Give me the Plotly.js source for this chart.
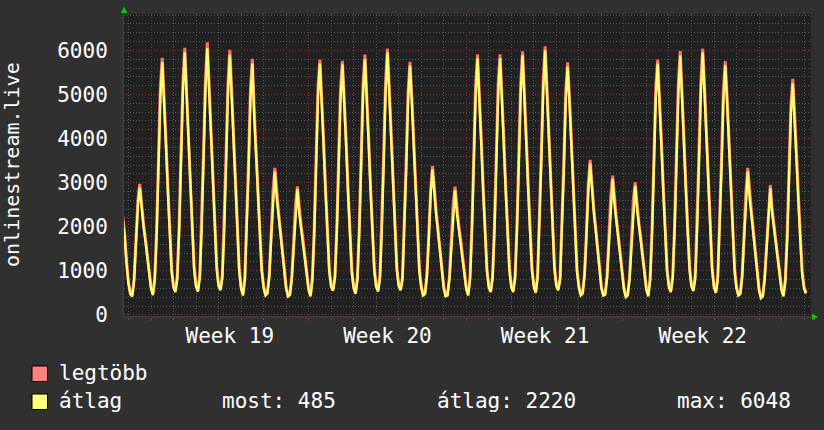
<!DOCTYPE html>
<html>
<head>
<meta charset="utf-8">
<script src="https://cdn.plot.ly/plotly-3.0.1.min.js"></script>
<style>
  html, body { margin: 0; padding: 0; background: #303030; }
  #chart { width: 824px; height: 430px; }
</style>
</head>
<body>
<div id="chart"></div>
<script>
// ---------- data (2-hour samples, starting Sat 2023-05-06 18:00) ----------
const seriesStart = '2023-05-06T18:00:00Z';
const stepHours = 2;

const seriesNames = ['legtöbb', 'átlag'];

const maxVals = [
  2230,1820,1200,                                          // Sat 6 May (partial)
  740,500,450,840,1650,2600,2970,2450,2080,1750,1380,920,   // Sun 7
  640,480,850,1950,3600,5200,5833,5020,3950,2900,1920,1040, // Mon 8
  660,550,890,2050,3700,5300,6060,5150,4050,2970,1980,1080, // Tue 9
  680,560,910,2100,3750,5350,6182,5200,4100,3020,2000,1110, // Wed 10
  690,590,900,2050,3650,5250,6015,5100,4050,2970,1970,1060, // Thu 11
  640,470,850,2000,3550,5150,5810,4650,3850,2820,1900,1060, // Fri 12
  660,470,510,910,1800,2800,3333,2750,2330,1920,1460,950,   // Sat 13
  640,450,480,860,1600,2500,2917,2400,2030,1720,1360,900,   // Sun 14
  600,450,870,2000,3600,5200,5788,5000,3950,2900,1920,1040, // Mon 15
  670,580,890,2000,3600,5150,5765,5000,3950,2870,1900,1020, // Tue 16
  640,510,870,2030,3650,5250,5902,5100,4000,2920,1950,1060, // Wed 17
  670,560,900,2070,3700,5300,6038,5150,4050,2970,1980,1080, // Thu 18
  690,590,860,2000,3550,5100,5742,4950,3900,2840,1900,1040, // Fri 19
  660,470,500,910,1800,2850,3379,2800,2330,1920,1460,950,   // Sat 20
  640,450,470,860,1600,2500,2909,2400,2030,1720,1360,900,   // Sun 21
  620,470,870,2030,3650,5250,5909,5100,4000,2920,1950,1060, // Mon 22
  660,550,880,2030,3650,5250,5909,5100,4000,2920,1950,1060, // Tue 23
  660,550,890,2050,3670,5270,5977,5130,4030,2950,1970,1070, // Wed 24
  680,530,910,2100,3730,5330,6091,5170,4070,2990,1990,1090, // Thu 25
  690,590,860,2000,3550,5100,5727,4950,3900,2840,1900,1040, // Fri 26
  660,470,510,940,1850,2950,3515,2900,2380,1970,1480,950,   // Sat 27
  640,470,490,890,1700,2700,3159,2600,2180,1820,1410,920,   // Sun 28
  620,430,470,860,1650,2600,3008,2500,2080,1750,1380,930,   // Mon 29 (holiday)
  600,450,870,2000,3600,5200,5788,5000,3950,2900,1920,1040, // Tue 30
  660,550,890,2050,3670,5270,5985,5130,4030,2950,1970,1070, // Wed 31
  680,570,900,2070,3700,5300,6038,5150,4050,2970,1980,1080, // Thu Jun 1
  660,530,860,2000,3550,5100,5757,4950,3900,2840,1900,1040, // Fri 2
  640,470,500,910,1800,2800,3333,2750,2330,1920,1460,950,   // Sat 3
  600,400,450,860,1600,2500,2947,2400,2030,1720,1360,900,   // Sun 4
  600,450,820,1850,3350,4800,5356,4600,3650,2670,1780,980,  // Mon 5
  640,510                                                   // Tue 6
];

const avgVals = [
  2150,1750,1150,
  700,470,420,780,1550,2450,2890,2350,2000,1680,1320,880,
  600,450,780,1800,3350,4950,5735,4880,3800,2780,1820,980,
  620,520,820,1900,3450,5050,5962,5000,3900,2850,1880,1020,
  640,530,840,1950,3500,5100,6048,5050,3950,2900,1900,1050,
  650,560,830,1900,3400,5000,5900,4950,3900,2850,1870,1000,
  600,440,780,1850,3300,4900,5700,4500,3700,2700,1800,1000,
  620,440,480,850,1700,2650,3250,2650,2250,1850,1400,900,
  600,420,450,800,1500,2350,2850,2300,1950,1650,1300,850,
  560,420,800,1850,3350,4950,5700,4850,3800,2780,1820,980,
  630,550,820,1850,3350,4900,5680,4850,3800,2750,1800,960,
  600,480,800,1880,3400,5000,5800,4950,3850,2800,1850,1000,
  630,530,830,1920,3450,5050,5950,5000,3900,2850,1880,1020,
  650,560,790,1850,3300,4850,5650,4800,3750,2720,1800,980,
  620,440,470,850,1700,2700,3300,2700,2250,1850,1400,900,
  600,420,440,800,1500,2350,2830,2300,1950,1650,1300,850,
  580,440,800,1880,3400,5000,5820,4950,3850,2800,1850,1000,
  620,520,810,1880,3400,5000,5820,4950,3850,2800,1850,1000,
  620,520,820,1900,3420,5020,5890,4980,3880,2830,1870,1010,
  640,500,840,1950,3480,5080,6000,5020,3920,2870,1890,1030,
  650,560,790,1850,3300,4850,5630,4800,3750,2720,1800,980,
  620,440,480,880,1750,2800,3430,2800,2300,1900,1420,900,
  600,440,460,830,1600,2550,3080,2500,2100,1750,1350,870,
  580,400,440,800,1550,2450,2930,2400,2000,1680,1320,880,
  560,420,800,1850,3350,4950,5700,4850,3800,2780,1820,980,
  620,520,820,1900,3420,5020,5880,4980,3880,2830,1870,1010,
  640,540,830,1920,3450,5050,5950,5000,3900,2850,1880,1020,
  620,500,790,1850,3300,4850,5660,4800,3750,2720,1800,980,
  600,440,470,850,1700,2650,3250,2650,2250,1850,1400,900,
  560,380,420,800,1500,2350,2870,2300,1950,1650,1300,850,
  560,420,750,1700,3100,4550,5250,4450,3500,2550,1680,920,
  600,485
];

const weekLabels = ['Week 19', 'Week 20', 'Week 21', 'Week 22'];
const weekMids   = ['2023-05-11 12:00', '2023-05-18 12:00', '2023-05-25 12:00', '2023-06-01 12:00'];
const xRange     = ['2023-05-06 19:13', '2023-06-06 07:22'];

const statLabels = ['most', 'átlag', 'max'];
const statValues = [485, 2220, 6048];

// ---------- build ----------
function fmt(ms) {
  return new Date(ms).toISOString().slice(0, 19).replace('T', ' ');
}
const t0 = Date.parse(seriesStart);
const xs = avgVals.map((_, i) => fmt(t0 + i * stepHours * 3600000));

const FONT = 'DejaVu Sans Mono, monospace';
const W = 824, H = 430, L = 124, R = 811, T = 14, B = 316;
const px = v => (v - L) / (R - L);
const py = v => (B - v) / (B - T);

const redCol = '#ff7070';
const yelCol = '#ffff70';
const majorGrid = 'rgb(125,55,55)';
const minorGrid = 'rgb(85,85,85)';

const traces = [
  { x: xs, y: maxVals, name: seriesNames[0], type: 'scatter', mode: 'lines',
    line: { color: redCol, width: 3, shape: 'linear' }, xaxis: 'x', yaxis: 'y' },
  { x: xs, y: avgVals, name: seriesNames[1], type: 'scatter', mode: 'lines',
    line: { color: yelCol, width: 2.4, shape: 'linear' }, xaxis: 'x2', yaxis: 'y' }
];

const annotations = [
  { text: 'onlinestream.live', xref: 'paper', yref: 'paper', x: px(12), y: py(165),
    textangle: -90, showarrow: false, xanchor: 'center', yanchor: 'middle',
    font: { family: FONT, size: 20, color: '#ffffff' } },
  { text: seriesNames[0], xref: 'paper', yref: 'paper', x: px(57), y: py(373),
    showarrow: false, xanchor: 'left', yanchor: 'middle',
    font: { family: FONT, size: 21, color: '#ffffff' } },
  { text: seriesNames[1], xref: 'paper', yref: 'paper', x: px(57), y: py(401),
    showarrow: false, xanchor: 'left', yanchor: 'middle',
    font: { family: FONT, size: 21, color: '#ffffff' } },
  { text: '▲', xref: 'paper', yref: 'paper', x: px(124.5), y: py(10),
    showarrow: false, xanchor: 'center', yanchor: 'middle',
    font: { family: 'DejaVu Sans', size: 8, color: '#00d000' } },
  { text: '▶', xref: 'paper', yref: 'paper', x: px(815), y: py(316),
    showarrow: false, xanchor: 'center', yanchor: 'middle',
    font: { family: 'DejaVu Sans', size: 8, color: '#00d000' } }
];
const statX = [220, 435, 675];
statLabels.forEach((lab, i) => {
  annotations.push({ text: lab + ': ' + statValues[i], xref: 'paper', yref: 'paper',
    x: px(statX[i]), y: py(401), showarrow: false, xanchor: 'left', yanchor: 'middle',
    font: { family: FONT, size: 21, color: '#ffffff' } });
});

const shapes = [
  { type: 'rect', xref: 'paper', yref: 'paper', x0: px(32), x1: px(47.5), y0: py(381.5), y1: py(366),
    fillcolor: '#ff8080', line: { color: '#000000', width: 1 } },
  { type: 'rect', xref: 'paper', yref: 'paper', x0: px(32), x1: px(47.5), y0: py(409.5), y1: py(394),
    fillcolor: '#ffff80', line: { color: '#000000', width: 1 } }
];

const layout = {
  width: W, height: H,
  margin: { l: L, r: W - R, t: T, b: H - B, pad: 0 },
  paper_bgcolor: '#303030',
  plot_bgcolor: '#212121',
  showlegend: false,
  hovermode: false,
  font: { family: FONT, size: 21, color: '#ffffff' },
  xaxis: {
    type: 'date', range: xRange,
    tickmode: 'linear', tick0: '2023-05-08', dtick: 7 * 86400000,
    showticklabels: false, ticks: 'outside', ticklen: 3, tickcolor: majorGrid,
    showgrid: true, gridcolor: majorGrid, griddash: '1px,2px', gridwidth: 1,
    minor: { tickmode: 'linear', tick0: '2023-05-08', dtick: 86400000,
             showgrid: true, gridcolor: minorGrid, griddash: '1px,2px', gridwidth: 1,
             ticks: 'outside', ticklen: 2, tickcolor: '#555555' },
    zeroline: false, showline: true, linecolor: '#3a3a3a', linewidth: 2
  },
  xaxis2: {
    type: 'date', overlaying: 'x', anchor: 'y', side: 'bottom', range: xRange,
    tickmode: 'array', tickvals: weekMids, ticktext: weekLabels,
    showgrid: false, zeroline: false, showline: false, ticks: '',
    ticklabelstandoff: 5,
    tickfont: { family: FONT, size: 21, color: '#ffffff' }
  },
  yaxis: {
    range: [-25, 6825], tickmode: 'linear', tick0: 0, dtick: 1000,
    ticks: '', ticklabelstandoff: 10,
    tickfont: { family: FONT, size: 21, color: '#ffffff' },
    showgrid: true, gridcolor: majorGrid, griddash: '1px,2px', gridwidth: 1,
    minor: { tickmode: 'linear', tick0: 0, dtick: 200, showgrid: true,
             gridcolor: minorGrid, griddash: '1px,2px', gridwidth: 1 },
    zeroline: false, showline: true, linecolor: '#3a3a3a', linewidth: 2
  },
  annotations: annotations,
  shapes: shapes
};

Plotly.newPlot('chart', traces, layout, { staticPlot: true, displayModeBar: false });
</script>
</body>
</html>
